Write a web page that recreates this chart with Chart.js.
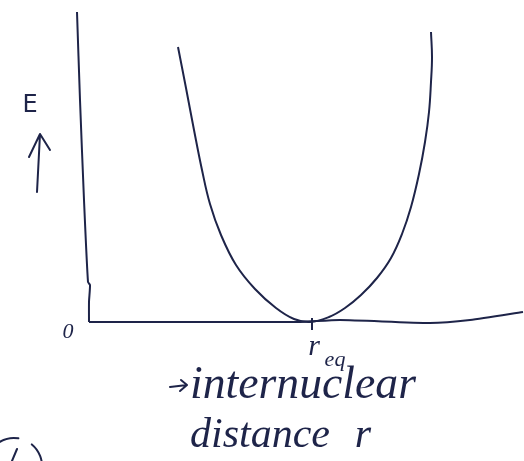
<!DOCTYPE html>
<html>
<head>
<meta charset="utf-8">
<script src="https://cdn.jsdelivr.net/npm/chart.js@4.4.1/dist/chart.umd.min.js"></script>
<style>
  html, body { margin: 0; padding: 0; background: #ffffff; }
  #wrap { width: 524px; height: 461px; }
</style>
</head>
<body>
<div id="wrap"><canvas id="potential" width="524" height="461"></canvas></div>
<script>
// potential energy curve (r from the E axis, E above the r axis)
const curveR = [89, 97, 105, 113, 121, 132, 147, 166, 187, 205, 221, 240, 256, 272, 288, 302, 313, 322, 330, 336, 340, 342, 343, 342];
const curveE = [275, 234, 192, 152, 118, 87, 57, 33, 14, 3, 0, 5, 14, 27, 44, 64, 88, 115, 148, 180, 210, 240, 265, 290];

// hand drawn axes
const eAxisR = [-12, -9, -5, -1, 1, 0, 0];
const eAxisE = [310, 222, 122, 40, 37, 20, 0];
const rAxisR = [0, 161, 211, 251, 341, 381, 434];
const rAxisE = [0, 0, 0, 2, -1, 2, 10];

const rEq = 223;
const rEqTick = [4, -8];

const ink = "#1e2449";

function pts(xs, ys) {
  return xs.map((x, i) => ({ x: x, y: ys[i] }));
}

// labels written by hand on the sketch
const notes = [
  { text: "E", r: -59, e: 216, size: 24, font: "DejaVu Sans", italic: false },
  { text: "0", r: -21, e: -10, size: 22, font: "Liberation Serif", italic: true },
  { text: "r", r: 225, e: -25, size: 30, font: "Liberation Serif", italic: true },
  { text: "eq", r: 246, e: -38, size: 22, font: "Liberation Serif", italic: true },
  { text: "internuclear", r: 214, e: -64, size: 42, width: 226, font: "Liberation Serif", italic: true },
  { text: "distance", r: 171, e: -114, size: 40, width: 140, font: "Liberation Serif", italic: true },
  { text: "r", r: 274, e: -114, size: 42, font: "Liberation Serif", italic: true }
];

const sketchPlugin = {
  id: "sketch",
  afterDatasetsDraw(chart) {
    const ctx = chart.ctx;
    const xs = chart.scales.x, ys = chart.scales.y;
    const X = v => xs.getPixelForValue(v);
    const Y = v => ys.getPixelForValue(v);
    ctx.save();
    ctx.fillStyle = ink;
    ctx.strokeStyle = ink;
    ctx.textAlign = "center";
    ctx.textBaseline = "middle";
    notes.forEach(n => {
      let size = n.size;
      const style = n.italic ? "italic " : "";
      ctx.font = style + size + "px '" + n.font + "'";
      if (n.width) {
        size = size * n.width / ctx.measureText(n.text).width;
        ctx.font = style + size.toFixed(1) + "px '" + n.font + "'";
      }
      ctx.fillText(n.text, X(n.r), Y(n.e));
    });

    ctx.lineWidth = 2;
    ctx.lineCap = "round";
    ctx.lineJoin = "round";
    // arrow next to E
    ctx.beginPath();
    ctx.moveTo(X(-52), Y(130));
    ctx.lineTo(X(-49), Y(188));
    ctx.moveTo(X(-60), Y(165));
    ctx.lineTo(X(-49), Y(188));
    ctx.lineTo(X(-39), Y(172));
    ctx.stroke();
    // arrow before "internuclear"
    ctx.beginPath();
    ctx.moveTo(X(81), Y(-65));
    ctx.lineTo(X(98), Y(-63));
    ctx.moveTo(X(92), Y(-58));
    ctx.lineTo(X(98), Y(-63));
    ctx.lineTo(X(91), Y(-69));
    ctx.stroke();
    // clipped circled number at the bottom left
    ctx.beginPath();
    ctx.arc(X(-75), Y(-144), 28, Math.PI * 1.05, Math.PI * 1.55);
    ctx.stroke();
    ctx.beginPath();
    ctx.arc(X(-75), Y(-144), 28, Math.PI * 1.72, Math.PI * 2.05);
    ctx.stroke();
    ctx.beginPath();
    ctx.moveTo(X(-77), Y(-139));
    ctx.lineTo(X(-72), Y(-127));
    ctx.stroke();
    ctx.restore();
  }
};

const lineStyle = {
  showLine: true,
  borderColor: ink,
  borderWidth: 2,
  pointRadius: 0,
  fill: false
};

new Chart(document.getElementById("potential"), {
  type: "scatter",
  data: {
    datasets: [
      Object.assign({ label: "E(r)", data: pts(curveR, curveE), tension: 0.4 }, lineStyle),
      Object.assign({ label: "E axis", data: pts(eAxisR, eAxisE), tension: 0.2 }, lineStyle),
      Object.assign({ label: "r axis", data: pts(rAxisR, rAxisE), tension: 0.2 }, lineStyle),
      Object.assign({ label: "r_eq", data: pts([rEq, rEq], rEqTick) }, lineStyle)
    ]
  },
  options: {
    responsive: false,
    animation: false,
    layout: { padding: 0 },
    plugins: {
      legend: { display: false },
      tooltip: { enabled: false }
    },
    scales: {
      x: { type: "linear", min: -89, max: 435, display: false },
      y: { type: "linear", min: -139, max: 322, display: false }
    }
  },
  plugins: [sketchPlugin]
});
</script>
</body>
</html>
